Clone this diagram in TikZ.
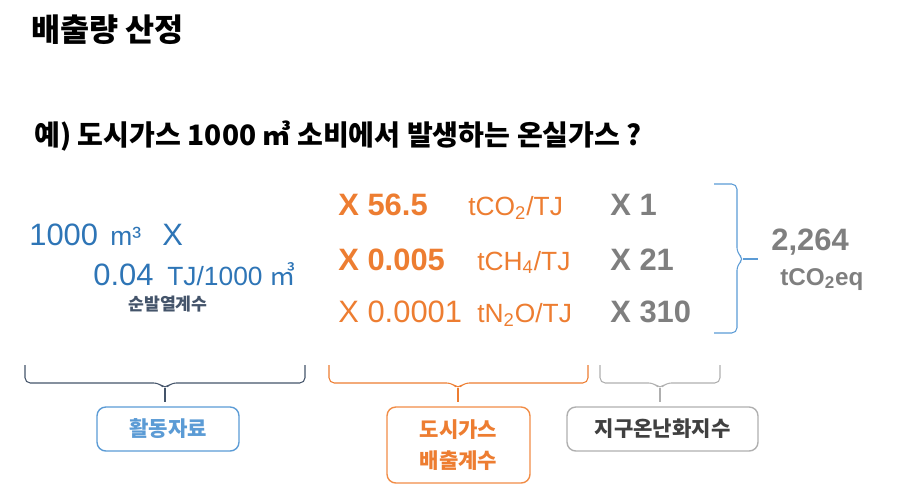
\documentclass[tikz,border=0pt]{standalone}
\usepackage{fontspec}
\setmainfont{Liberation Sans}
\newfontfamily\kr{Noto Sans CJK KR}
\usepackage{tikz}

\definecolor{actblue}{RGB}{46,117,182}
\definecolor{boxblue}{RGB}{91,155,213}
\definecolor{eforange}{RGB}{237,125,49}
\definecolor{boxorange}{RGB}{241,140,70}
\definecolor{gwpgray}{RGB}{127,127,127}
\definecolor{bracegray}{RGB}{175,175,175}
\definecolor{slate}{RGB}{68,84,106}
\definecolor{darktext}{RGB}{64,64,64}

\tikzset{
  num/.style={font=\fontsize{17.6}{21}\selectfont},
  numbold/.style={font=\bfseries\fontsize{17.6}{21}\selectfont},
  unit/.style={font=\fontsize{15}{18}\selectfont},
  box/.style={draw, rounded corners=5pt, line width=0.8pt, anchor=center, align=center,
    font=\kr\bfseries\fontsize{12}{17.6}\selectfont},
  bracket/.style={line width=0.6pt, rounded corners=3pt}
}

\begin{document}
\begin{tikzpicture}[x=0.02cm, y=-0.02cm, every node/.style={inner sep=0pt, anchor=base west}]
\useasboundingbox (0,0) rectangle (909,495);

% headings
\node[font=\kr\bfseries\fontsize{18}{21}\selectfont] (title) at (31,41) {배출량 산정};
\node[font=\kr\bfseries\fontsize{16}{19}\selectfont] (question) at (34,145) {예) 도시가스 1000 ㎥ 소비에서 발생하는 온실가스 ?};

% activity data
\node[num, text=actblue] (amount) at (29,245) {1000};
\node[unit, text=actblue] (amountunit) at (110,245) {m³};
\node[num, text=actblue] (times) at (162,245) {X};
\node[num, text=actblue] (ncv) at (93,285) {0.04};
\node[unit, text=actblue] (ncvunit) at (167,285) {TJ/1000 {\kr ㎥}};
\node[font=\kr\bfseries\fontsize{9.8}{11}\selectfont, text=slate, anchor=center] (ncvlabel) at (168,304) {순발열계수};

% emission factors
\node[numbold, text=eforange] (ef1) at (338,215) {X 56.5};
\node[numbold, text=eforange] (ef2) at (338,270) {X 0.005};
\node[num, text=eforange] (ef3) at (338,322) {X 0.0001};
\node[unit, text=eforange] (efunit1) at (468,215) {tCO\textsubscript{2}/TJ};
\node[unit, text=eforange] (efunit2) at (477,270) {tCH\textsubscript{4}/TJ};
\node[unit, text=eforange] (efunit3) at (477,322) {tN\textsubscript{2}O/TJ};

% global warming potentials
\node[numbold, text=gwpgray] (gwp1) at (610,215) {X 1};
\node[numbold, text=gwpgray] (gwp2) at (610,270) {X 21};
\node[numbold, text=gwpgray] (gwp3) at (610,322) {X 310};

% result
\draw[bracket, boxblue] (714,184) -- (737,184) -- (737,253) -- (744,259) -- (737,265) -- (737,333) -- (714,333);
\draw[line width=0.6pt, boxblue] (743,259) -- (758,259);
\node[numbold, text=gwpgray] (total) at (771,250) {2,264};
\node[font=\bfseries\fontsize{13.8}{16}\selectfont, text=gwpgray] (totalunit) at (780,285) {tCO\textsubscript{2}eq};

% bottom brackets
\draw[bracket, slate] (25,365) -- (25,383) -- (159,383) -- (165,389) -- (171,383) -- (305,383) -- (305,365);
\draw[line width=0.6pt, slate] (165,388) -- (165,402);
\draw[bracket, eforange] (329,365) -- (329,383) -- (452,383) -- (458,389) -- (464,383) -- (588,383) -- (588,365);
\draw[line width=0.6pt, eforange] (458,388) -- (458,402);
\draw[bracket, bracegray] (600,365) -- (600,383) -- (654,383) -- (660,389) -- (666,383) -- (720,383) -- (720,365);
\draw[line width=0.6pt, bracegray] (660,388) -- (660,402);

% labels
\node[box, draw=boxblue, text=boxblue, minimum width=2.84cm, minimum height=0.88cm] (actbox) at (168,429) {활동자료};
\node[box, draw=boxorange, text=eforange, minimum width=2.86cm, minimum height=1.52cm] (efbox) at (458.5,445) {도시가스\\배출계수};
\node[box, draw=bracegray, text=darktext, minimum width=3.82cm, minimum height=0.88cm] (gwpbox) at (662.5,429) {지구온난화지수};
\end{tikzpicture}
\end{document}
